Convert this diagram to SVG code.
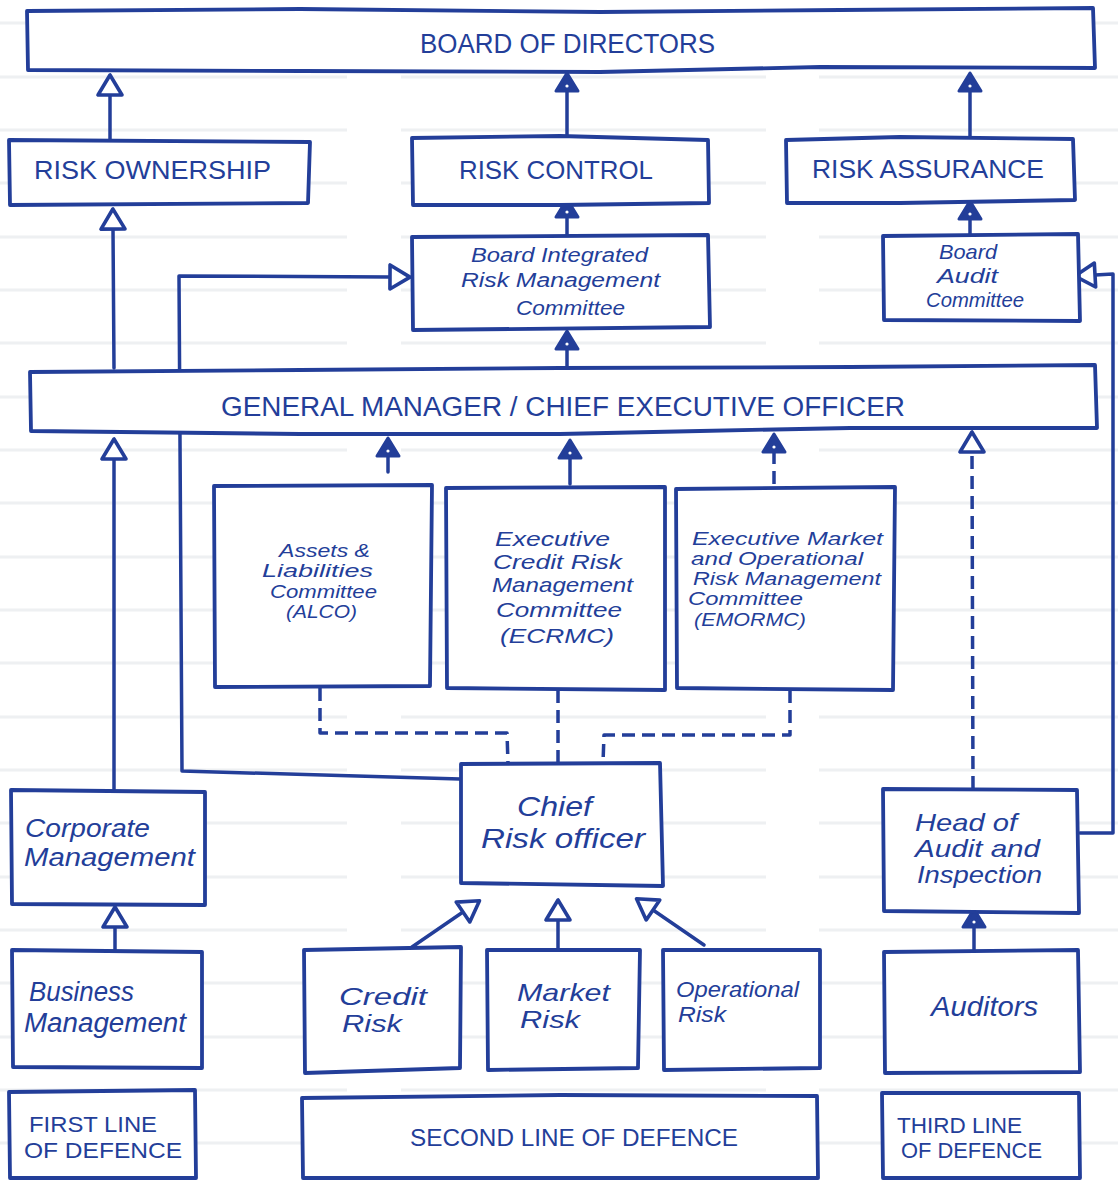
<svg xmlns="http://www.w3.org/2000/svg" width="1118" height="1181" viewBox="0 0 1118 1181">
  <style>
    .box { fill: #ffffff; stroke: #233e99; stroke-width: 3.8; stroke-linejoin: round; }
    .ln { fill: none; stroke: #233e99; stroke-width: 3.5; stroke-linejoin: round; stroke-linecap: round; }
    .dash { stroke-dasharray: 13 7; stroke-linecap: butt; }
    .rule { stroke: #eef0f2; stroke-width: 3; }
    .cap { font-family: "Liberation Sans", Arial, sans-serif; fill: #233e99; }
    .hand { font-family: "Liberation Sans", Arial, sans-serif; font-style: italic; fill: #233e99; }
  </style>
  <defs>
    <!-- hollow arrowhead: tip sits 20px ahead of the line end -->
    <marker id="open" viewBox="-3 -16 26 32" refX="0" refY="0" markerWidth="26" markerHeight="32" markerUnits="userSpaceOnUse" orient="auto">
      <path d="M20,0 L0,-12 L0,12 Z" fill="#ffffff" stroke="#233e99" stroke-width="3.6" stroke-linejoin="round"/>
    </marker>
    <!-- solid arrowhead -->
    <marker id="solid" viewBox="-3 -15 24 30" refX="0" refY="0" markerWidth="24" markerHeight="30" markerUnits="userSpaceOnUse" orient="auto">
      <path d="M18,0 L0,-11 L0,11 Z" fill="#233e99" stroke="#233e99" stroke-width="3" stroke-linejoin="round"/>
      <circle cx="5" cy="0" r="1.6" fill="#ffffff"/>
    </marker>
  </defs>

  <rect width="1118" height="1181" fill="#ffffff"/>

  <!-- ruled paper -->
  <g id="paper">
    <path class="rule" d="M0,23H347M401,23H766M819,23H1118M0,77H347M401,77H766M819,77H1118M0,130H347M401,130H766M819,130H1118M0,183H347M401,183H766M819,183H1118M0,237H347M401,237H766M819,237H1118M0,290H347M401,290H766M819,290H1118M0,343H347M401,343H766M819,343H1118M0,397H347M401,397H766M819,397H1118M0,450H347M401,450H766M819,450H1118M0,503H347M401,503H766M819,503H1118M0,557H347M401,557H766M819,557H1118M0,610H347M401,610H766M819,610H1118M0,663H347M401,663H766M819,663H1118M0,717H347M401,717H766M819,717H1118M0,770H347M401,770H766M819,770H1118M0,823H347M401,823H766M819,823H1118M0,877H347M401,877H766M819,877H1118M0,930H347M401,930H766M819,930H1118M0,983H347M401,983H766M819,983H1118M0,1037H347M401,1037H766M819,1037H1118M0,1090H347M401,1090H766M819,1090H1118M0,1143H347M401,1143H766M819,1143H1118"/>
  </g>

  <!-- connectors -->
  <g id="connectors">
    <path class="ln" d="M110,140 L110,95" marker-end="url(#open)"/>
    <path class="ln" d="M567,137 L567,91" marker-end="url(#solid)"/>
    <path class="ln" d="M970,137 L970,91" marker-end="url(#solid)"/>
    <path class="ln" d="M567,237 L567,217" marker-end="url(#solid)"/>
    <path class="ln" d="M970,234 L970,219" marker-end="url(#solid)"/>
    <path class="ln" d="M567,368 L567,349" marker-end="url(#solid)"/>
    <path class="ln" d="M114,368 L113,229" marker-end="url(#open)"/>
    <path class="ln" d="M114,790 L114,459" marker-end="url(#open)"/>
    <path class="ln" d="M115,950 L115,927" marker-end="url(#open)"/>
    <path class="ln" d="M460,779 L182,771 L179,276 L390,277" marker-end="url(#open)"/>
    <path class="ln" d="M388,472 L388,456" marker-end="url(#solid)"/>
    <path class="ln" d="M570,484 L570,458" marker-end="url(#solid)"/>
    <path class="ln dash" d="M774,484 L774,452" marker-end="url(#solid)"/>
    <path class="ln dash" d="M973,789 L972,452" marker-end="url(#open)"/>
    <path class="ln" d="M1080,833 L1113,833 L1113,274 L1095,275" marker-end="url(#open)"/>
    <path class="ln" d="M974,951 L974,927" marker-end="url(#solid)"/>
    <path class="ln" d="M412,947 L463,912" marker-end="url(#open)"/>
    <path class="ln" d="M558,949 L558,920" marker-end="url(#open)"/>
    <path class="ln" d="M704,945 L653,910" marker-end="url(#open)"/>
    <path class="ln dash" d="M320,688 L320,733 L507,733 L508,763"/>
    <path class="ln dash" d="M558,690 L558,763"/>
    <path class="ln dash" d="M790,690 L790,735 L604,735 L603,763"/>
  </g>

  <!-- governance level -->
  <g id="board">
    <path class="box" d="M27,11 L300,9 L600,12 L840,10 L1093,8 L1095,68 L820,67 L600,72 L300,71 L28,70 Z"/>
    <text class="cap" x="420" y="53" font-size="27" textLength="295" lengthAdjust="spacingAndGlyphs">BOARD OF DIRECTORS</text>
  </g>
  <g id="risk-ownership">
    <path class="box" d="M9,140 L310,142 L308,203 L10,205 Z"/>
    <text class="cap" x="34" y="179" font-size="25" textLength="237" lengthAdjust="spacingAndGlyphs">RISK OWNERSHIP</text>
  </g>
  <g id="risk-control">
    <path class="box" d="M412,138 L560,136 L708,140 L709,203 L560,205 L413,205 Z"/>
    <text class="cap" x="459" y="179" font-size="25" textLength="194" lengthAdjust="spacingAndGlyphs">RISK CONTROL</text>
  </g>
  <g id="risk-assurance">
    <path class="box" d="M786,140 L900,137 L1073,139 L1075,200 L900,203 L787,203 Z"/>
    <text class="cap" x="812" y="178" font-size="25" textLength="232" lengthAdjust="spacingAndGlyphs">RISK ASSURANCE</text>
  </g>
  <g id="birmc">
    <path class="box" d="M412,237 L708,235 L710,327 L413,330 Z"/>
    <text class="hand" x="471" y="262" font-size="20" textLength="177" lengthAdjust="spacingAndGlyphs">Board Integrated</text>
    <text class="hand" x="461" y="287" font-size="20" textLength="199" lengthAdjust="spacingAndGlyphs">Risk Management</text>
    <text class="hand" x="516" y="315" font-size="20" textLength="109" lengthAdjust="spacingAndGlyphs">Committee</text>
  </g>
  <g id="board-audit">
    <path class="box" d="M883,236 L1078,234 L1080,321 L884,320 Z"/>
    <text class="hand" x="939" y="259" font-size="21" textLength="58" lengthAdjust="spacingAndGlyphs">Board</text>
    <text class="hand" x="937" y="283" font-size="21" textLength="61" lengthAdjust="spacingAndGlyphs">Audit</text>
    <text class="hand" x="926" y="307" font-size="21" textLength="98" lengthAdjust="spacingAndGlyphs">Committee</text>
  </g>
  <g id="gm-ceo">
    <path class="box" d="M30,372 L300,370 L560,368 L850,367 L1095,365 L1097,428 L850,428 L700,431 L560,434 L300,434 L31,431 Z"/>
    <text class="cap" x="221" y="416" font-size="27" textLength="684" lengthAdjust="spacingAndGlyphs">GENERAL MANAGER / CHIEF EXECUTIVE OFFICER</text>
  </g>

  <!-- executive committees -->
  <g id="alco">
    <path class="box" d="M214,486 L432,485 L430,686 L215,687 Z"/>
    <text class="hand" x="279" y="557" font-size="18" textLength="91" lengthAdjust="spacingAndGlyphs">Assets &amp;</text>
    <text class="hand" x="262" y="577" font-size="18" textLength="111" lengthAdjust="spacingAndGlyphs">Liabilities</text>
    <text class="hand" x="270" y="598" font-size="18" textLength="107" lengthAdjust="spacingAndGlyphs">Committee</text>
    <text class="hand" x="286" y="618" font-size="18" textLength="71" lengthAdjust="spacingAndGlyphs">(ALCO)</text>
  </g>
  <g id="ecrmc">
    <path class="box" d="M446,488 L665,487 L665,690 L447,688 Z"/>
    <text class="hand" x="495" y="546" font-size="21" textLength="115" lengthAdjust="spacingAndGlyphs">Executive</text>
    <text class="hand" x="493" y="569" font-size="21" textLength="129" lengthAdjust="spacingAndGlyphs">Credit Risk</text>
    <text class="hand" x="492" y="592" font-size="21" textLength="141" lengthAdjust="spacingAndGlyphs">Management</text>
    <text class="hand" x="496" y="617" font-size="21" textLength="126" lengthAdjust="spacingAndGlyphs">Committee</text>
    <text class="hand" x="500" y="643" font-size="21" textLength="114" lengthAdjust="spacingAndGlyphs">(ECRMC)</text>
  </g>
  <g id="emormc">
    <path class="box" d="M676,489 L895,487 L893,690 L677,688 Z"/>
    <text class="hand" x="692" y="545" font-size="18" textLength="191" lengthAdjust="spacingAndGlyphs">Executive Market</text>
    <text class="hand" x="691" y="565" font-size="18" textLength="172" lengthAdjust="spacingAndGlyphs">and Operational</text>
    <text class="hand" x="693" y="585" font-size="18" textLength="188" lengthAdjust="spacingAndGlyphs">Risk Management</text>
    <text class="hand" x="688" y="605" font-size="18" textLength="115" lengthAdjust="spacingAndGlyphs">Committee</text>
    <text class="hand" x="694" y="626" font-size="18" textLength="112" lengthAdjust="spacingAndGlyphs">(EMORMC)</text>
  </g>

  <!-- management level -->
  <g id="cro">
    <path class="box" d="M461,764 L660,763 L663,886 L461,883 Z"/>
    <text class="hand" x="517" y="816" font-size="28" textLength="75" lengthAdjust="spacingAndGlyphs">Chief</text>
    <text class="hand" x="481" y="848" font-size="28" textLength="164" lengthAdjust="spacingAndGlyphs">Risk officer</text>
  </g>
  <g id="corporate">
    <path class="box" d="M11,790 L205,792 L205,905 L12,904 Z"/>
    <text class="hand" x="25" y="837" font-size="26" textLength="125" lengthAdjust="spacingAndGlyphs">Corporate</text>
    <text class="hand" x="24" y="866" font-size="26" textLength="171" lengthAdjust="spacingAndGlyphs">Management</text>
  </g>
  <g id="head-audit">
    <path class="box" d="M883,789 L1077,790 L1079,913 L884,911 Z"/>
    <text class="hand" x="915" y="831" font-size="24" textLength="102" lengthAdjust="spacingAndGlyphs">Head of</text>
    <text class="hand" x="915" y="857" font-size="24" textLength="125" lengthAdjust="spacingAndGlyphs">Audit and</text>
    <text class="hand" x="917" y="883" font-size="24" textLength="125" lengthAdjust="spacingAndGlyphs">Inspection</text>
  </g>

  <!-- operating level -->
  <g id="business">
    <path class="box" d="M12,950 L202,952 L202,1068 L13,1067 Z"/>
    <text class="hand" x="29" y="1001" font-size="27" textLength="105" lengthAdjust="spacingAndGlyphs">Business</text>
    <text class="hand" x="24" y="1032" font-size="27" textLength="162" lengthAdjust="spacingAndGlyphs">Management</text>
  </g>
  <g id="credit">
    <path class="box" d="M304,950 L461,947 L460,1068 L305,1073 Z"/>
    <text class="hand" x="339" y="1005" font-size="24" textLength="88" lengthAdjust="spacingAndGlyphs">Credit</text>
    <text class="hand" x="342" y="1032" font-size="24" textLength="60" lengthAdjust="spacingAndGlyphs">Risk</text>
  </g>
  <g id="market">
    <path class="box" d="M487,950 L640,950 L638,1068 L488,1070 Z"/>
    <text class="hand" x="517" y="1001" font-size="24" textLength="93" lengthAdjust="spacingAndGlyphs">Market</text>
    <text class="hand" x="520" y="1028" font-size="24" textLength="60" lengthAdjust="spacingAndGlyphs">Risk</text>
  </g>
  <g id="operational">
    <path class="box" d="M663,950 L820,950 L820,1068 L664,1070 Z"/>
    <text class="hand" x="676" y="997" font-size="22" textLength="123" lengthAdjust="spacingAndGlyphs">Operational</text>
    <text class="hand" x="678" y="1022" font-size="22" textLength="48" lengthAdjust="spacingAndGlyphs">Risk</text>
  </g>
  <g id="auditors">
    <path class="box" d="M884,952 L1078,950 L1080,1072 L885,1073 Z"/>
    <text class="hand" x="931" y="1016" font-size="28" textLength="107" lengthAdjust="spacingAndGlyphs">Auditors</text>
  </g>

  <!-- lines of defence -->
  <g id="first-line">
    <path class="box" d="M9,1092 L195,1090 L196,1178 L10,1178 Z"/>
    <text class="cap" x="29" y="1132" font-size="22" textLength="128" lengthAdjust="spacingAndGlyphs">FIRST LINE</text>
    <text class="cap" x="24" y="1158" font-size="22" textLength="158" lengthAdjust="spacingAndGlyphs">OF DEFENCE</text>
  </g>
  <g id="second-line">
    <path class="box" d="M302,1098 L560,1095 L817,1096 L818,1178 L303,1178 Z"/>
    <text class="cap" x="410" y="1146" font-size="24" textLength="328" lengthAdjust="spacingAndGlyphs">SECOND LINE OF DEFENCE</text>
  </g>
  <g id="third-line">
    <path class="box" d="M882,1093 L1079,1093 L1080,1178 L883,1178 Z"/>
    <text class="cap" x="897" y="1133" font-size="22" textLength="125" lengthAdjust="spacingAndGlyphs">THIRD LINE</text>
    <text class="cap" x="901" y="1158" font-size="22" textLength="141" lengthAdjust="spacingAndGlyphs">OF DEFENCE</text>
  </g>
</svg>
